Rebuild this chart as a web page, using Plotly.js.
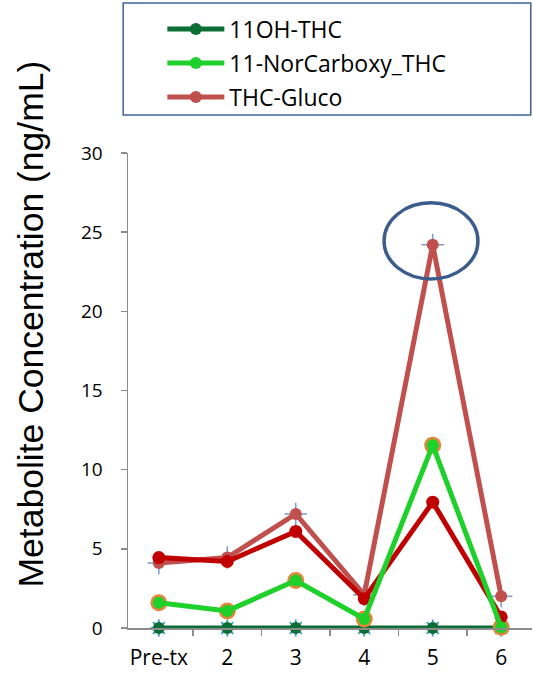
<!DOCTYPE html>
<html>
<head>
<meta charset="utf-8">
<script src="https://cdn.plot.ly/plotly-3.0.1.min.js"></script>
<style>
  html, body { margin: 0; padding: 0; background: #fff; }
  #chart { width: 533px; height: 673px; }
</style>
</head>
<body>
<div id="chart"></div>
<script>
// Sampling time points
const timepoints = ['Pre-tx', '2', '3', '4', '5', '6'];

// Metabolite concentrations (ng/mL)
const ohThc         = [0, 0, 0, 0, 0, 0];
const norCarboxyThc = [1.6, 1.08, 3.0, 0.57, 11.55, 0.05];
const thcGluco      = [4.1, 4.45, 7.2, 2.1, 24.2, 2.0];
const thcGlucoRerun = [4.45, 4.2, 6.1, 1.85, 7.95, 0.7];

const font = 'Open Sans, sans-serif';

const traces = [
  // star markers under the 11OH-THC baseline
  { x: timepoints, y: ohThc, type: 'scatter', mode: 'markers', showlegend: false, hoverinfo: 'skip',
    marker: { symbol: 'asterisk', size: 14, line: { color: '#3d9abb', width: 1.8 } }, cliponaxis: false },
  { x: timepoints, y: ohThc, name: '11OH-THC', type: 'scatter', mode: 'lines+markers',
    legendrank: 1, legendgroup: 'a',
    line: { color: '#0b6e35', width: 5 }, marker: { color: '#0b6e35', size: 12 }, cliponaxis: false },
  // orange ring markers behind the NorCarboxy points
  { x: timepoints, y: norCarboxyThc, type: 'scatter', mode: 'markers', showlegend: false, hoverinfo: 'skip',
    marker: { color: '#e0873a', size: 17 }, cliponaxis: false },
  // cross markers behind the THC-Gluco points
  { x: timepoints, y: thcGluco, type: 'scatter', mode: 'markers', showlegend: false, hoverinfo: 'skip',
    marker: { symbol: 'cross-thin', size: 16, line: { color: '#7a9ad0', width: 1.5 } }, cliponaxis: false },
  { x: timepoints, y: thcGluco, name: 'THC-Gluco', type: 'scatter', mode: 'lines+markers',
    legendrank: 3, legendgroup: 'c',
    line: { color: '#c0504d', width: 5 }, marker: { color: '#c0504d', size: 12 }, cliponaxis: false },
  { x: timepoints, y: thcGlucoRerun, type: 'scatter', mode: 'lines+markers', showlegend: false,
    line: { color: '#c00000', width: 5 }, marker: { color: '#c00000', size: 13 }, cliponaxis: false },
  { x: timepoints, y: norCarboxyThc, name: '11-NorCarboxy_THC', type: 'scatter', mode: 'lines+markers',
    legendrank: 2, legendgroup: 'b',
    line: { color: '#1ed12a', width: 5 }, marker: { color: '#1ed12a', size: 12 }, cliponaxis: false }
];

const layout = {
  width: 533, height: 673,
  margin: { l: 128, r: 1, t: 153, b: 45 },
  paper_bgcolor: '#fff', plot_bgcolor: '#fff',
  font: { family: font, color: '#000' },
  showlegend: true,
  legend: {
    x: 0.085, y: 1.306, xanchor: 'left', yanchor: 'top',
    bgcolor: 'rgba(0,0,0,0)', borderwidth: 0,
    font: { family: font, size: 23, color: '#000' },
    itemwidth: 57, tracegroupgap: 1
  },
  xaxis: {
    type: 'category', showgrid: false, zeroline: false,
    showline: true, linecolor: '#8c8c8c', linewidth: 1.5,
    ticks: 'outside', tickson: 'boundaries', ticklen: 6, tickcolor: '#8c8c8c', tickwidth: 1.5,
    tickfont: { family: font, size: 21, color: '#000' },
    ticklabelstandoff: 10,
    fixedrange: true
  },
  yaxis: {
    range: [0, 30], dtick: 5, showgrid: false, zeroline: false,
    showline: true, linecolor: '#8c8c8c', linewidth: 1.5,
    ticks: 'outside', ticklen: 6, tickcolor: '#8c8c8c', tickwidth: 1.5,
    tickfont: { family: font, size: 19, color: '#000' },
    ticklabelstandoff: 14,
    fixedrange: true
  },
  shapes: [
    // legend frame
    { type: 'rect', xref: 'paper', yref: 'paper', x0: -0.012, x1: 0.997, y0: 1.08, y1: 1.316,
      line: { color: '#3f6394', width: 1.5 }, fillcolor: 'rgba(0,0,0,0)' },
    // highlight around the peak at time point 5
    { type: 'circle', xref: 'x', yref: 'y', x0: 3.29, x1: 4.66, y0: 22.05, y1: 26.85,
      line: { color: '#3a5d8c', width: 3.5 } }
  ],
  annotations: [
    { text: 'Metabolite Concentration (ng/mL)', textangle: -90, showarrow: false,
      xref: 'paper', yref: 'paper', x: -0.24, y: 0.639, xanchor: 'center', yanchor: 'middle',
      font: { family: 'Liberation Sans, Arial, sans-serif', size: 35.5, color: '#000' } }
  ]
};

Plotly.newPlot('chart', traces, layout, { displayModeBar: false, staticPlot: true });
</script>
</body>
</html>
